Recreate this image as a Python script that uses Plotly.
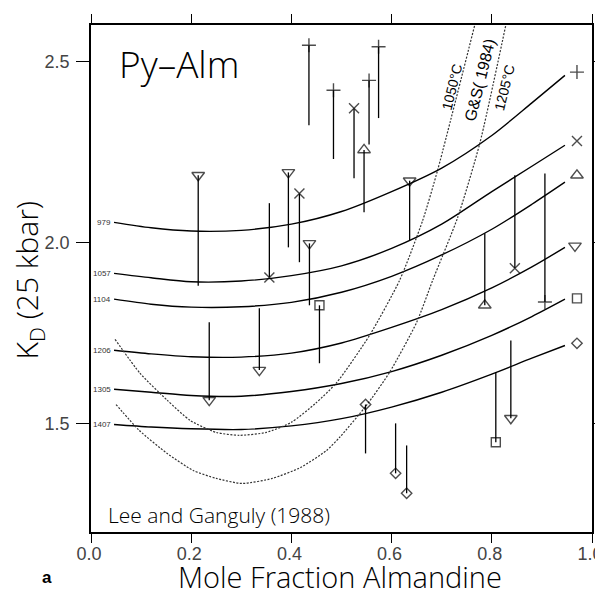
import plotly.graph_objects as go

# ---------------- data ----------------
ISO_X = [0.046, 0.12, 0.2, 0.3, 0.4, 0.5, 0.6, 0.7, 0.8, 0.88, 0.946]
iso_979 = [2.055, 2.040, 2.031, 2.033, 2.050, 2.085, 2.140, 2.205, 2.295, 2.385, 2.461]
iso_1057 = [1.914, 1.902, 1.891, 1.893, 1.908, 1.935, 1.983, 2.050, 2.140, 2.210, 2.268]
iso_1104 = [1.843, 1.829, 1.821, 1.822, 1.834, 1.862, 1.906, 1.965, 2.036, 2.105, 2.166]
iso_1206 = [1.702, 1.692, 1.684, 1.683, 1.694, 1.722, 1.765, 1.814, 1.874, 1.932, 1.986]
iso_1305 = [1.594, 1.586, 1.577, 1.575, 1.588, 1.610, 1.643, 1.688, 1.743, 1.795, 1.843]
iso_1407 = [1.497, 1.490, 1.485, 1.483, 1.493, 1.513, 1.545, 1.586, 1.636, 1.680, 1.715]
iso_labels = ["979", "1057", "1104", "1206", "1305", "1407"]

# Ganguly & Saxena (1984) curves (dotted)
gs1050_x = [0.048, 0.098, 0.152, 0.198, 0.25, 0.296, 0.35, 0.40, 0.448, 0.49, 0.556,
            0.616, 0.662, 0.692, 0.766]
gs1050_y = [1.732, 1.638, 1.564, 1.508, 1.475, 1.467, 1.475, 1.503, 1.555, 1.612, 1.743,
            1.895, 2.060, 2.200, 2.600]
gs1205_x = [0.05, 0.096, 0.152, 0.204, 0.25, 0.302, 0.362, 0.418, 0.47, 0.496, 0.55,
            0.596, 0.65, 0.682, 0.732, 0.776, 0.828]
gs1205_y = [1.552, 1.481, 1.417, 1.370, 1.348, 1.334, 1.348, 1.378, 1.425, 1.461, 1.550,
            1.641, 1.779, 1.895, 2.069, 2.273, 2.600]

# experimental points: marker position and other end of the vertical bar
pt_symbol = ["tdown", "x", "tdown", "x", "tdown", "plus", "plus", "x", "plus", "tup", "plus",
             "tdown", "square", "tdown", "tdown", "diamond", "diamond", "diamond", "square",
             "tdown", "tup", "x", "plus"]
pt_x = [0.214, 0.356, 0.394, 0.416, 0.436, 0.435, 0.484, 0.525, 0.555, 0.545, 0.574,
        0.636, 0.456, 0.236, 0.336, 0.548, 0.608, 0.630, 0.808, 0.838, 0.786, 0.846, 0.906]
pt_y = [2.185, 1.903, 2.193, 2.135, 1.997, 2.544, 2.420, 2.370, 2.447, 2.255, 2.540,
        2.170, 1.826, 1.564, 1.647, 1.552, 1.362, 1.307, 1.448, 1.514, 1.826, 1.928, 1.835]
pt_end = [1.880, 2.108, 1.986, 1.945, 1.826, 2.323, 2.230, 2.177, 2.270, 2.083, 2.343,
          2.005, 1.666, 1.779, 1.818, 1.417, 1.500, 1.439, 1.641, 1.729, 2.025, 2.185, 2.190]

# key markers at the right end of each isotherm
key_symbol = ["plus", "x", "tup", "tdown", "square", "diamond"]
key_x = [0.97, 0.97, 0.97, 0.966, 0.97, 0.97]
key_y = [2.470, 2.280, 2.185, 1.990, 1.845, 1.721]

x_ticks = [0.0, 0.2, 0.4, 0.6, 0.8, 1.0]
x_tick_text = ["0.0", "0.2", "0.4", "0.6", "0.8", "1.0"]
y_ticks = [1.5, 2.0, 2.5]
y_tick_text = ["1.5", "2.0", "2.5"]

# ---------------- styling ----------------
SYM = {"tdown": "triangle-down-open", "tup": "triangle-up-open", "x": "x-thin-open",
       "plus": "cross-thin-open", "square": "square-open", "diamond": "diamond-open"}
SIZE = {"tdown": 11, "tup": 11, "x": 10, "plus": 10, "square": 9, "diamond": 8}
LIGHT = "Open Sans, Lato, DejaVu Sans, sans-serif"
TICKF = "Liberation Sans, Arial, sans-serif"

fig = go.Figure()

isos = [iso_979, iso_1057, iso_1104, iso_1206, iso_1305, iso_1407]
for ys in isos:
    fig.add_trace(go.Scatter(x=ISO_X, y=ys, mode="lines",
                             line=dict(color="black", width=1.4, shape="spline", smoothing=0.8),
                             hoverinfo="skip", showlegend=False))

for xs, ys in [(gs1050_x, gs1050_y), (gs1205_x, gs1205_y)]:
    fig.add_trace(go.Scatter(x=xs, y=ys, mode="lines",
                             line=dict(color="#333", width=1.2, dash="2px,1.5px",
                                       shape="spline", smoothing=0.6),
                             hoverinfo="skip", showlegend=False))

# vertical bars
bx, by = [], []
for x, y0, y1 in zip(pt_x, pt_y, pt_end):
    bx += [x, x, None]
    by += [y0, y1, None]
fig.add_trace(go.Scatter(x=bx, y=by, mode="lines", line=dict(color="black", width=1.3),
                         hoverinfo="skip", showlegend=False))

fig.add_trace(go.Scatter(x=pt_x, y=pt_y, mode="markers",
                         marker=dict(symbol=[SYM[s] for s in pt_symbol],
                                     size=[SIZE[s] for s in pt_symbol],
                                     color="black", line=dict(color="black", width=1.4)),
                         showlegend=False))
fig.add_trace(go.Scatter(x=key_x, y=key_y, mode="markers",
                         marker=dict(symbol=[SYM[s] for s in key_symbol],
                                     size=[SIZE[s] for s in key_symbol],
                                     color="black", line=dict(color="black", width=1.4)),
                         showlegend=False))

ann = []
for lab, ys in zip(iso_labels, isos):
    ann.append(dict(x=0.044, y=ys[0], xref="x", yref="y", text=lab, showarrow=False,
                    xanchor="right", yanchor="middle",
                    font=dict(family=TICKF, size=8, color="#333")))
ann += [
    dict(x=0.176, y=2.494, xref="x", yref="y", text="Py–Alm", showarrow=False,
         xanchor="center", yanchor="middle",
         font=dict(family=LIGHT, size=37, color="black", weight=300)),
    dict(x=0.03, y=1.246, xref="x", yref="y", text="Lee and Ganguly (1988)", showarrow=False,
         xanchor="left", yanchor="middle",
         font=dict(family=LIGHT, size=21, color="black", weight=300)),
    dict(x=0.721, y=2.428, xref="x", yref="y", text="1050°C", showarrow=False, textangle=-76,
         xanchor="center", yanchor="middle",
         font=dict(family=TICKF, size=14, color="black")),
    dict(x=0.776, y=2.447, xref="x", yref="y", text="G&S( 1984)", showarrow=False, textangle=-76,
         xanchor="center", yanchor="middle",
         font=dict(family=TICKF, size=16, color="black")),
    dict(x=0.826, y=2.428, xref="x", yref="y", text="1205°C", showarrow=False, textangle=-76,
         xanchor="center", yanchor="middle",
         font=dict(family=TICKF, size=14, color="black")),
    dict(x=0.497, y=-0.087, xref="paper", yref="paper", text="Mole Fraction Almandine",
         showarrow=False, xanchor="center", yanchor="middle",
         font=dict(family=LIGHT, size=29, color="black", weight=300)),
    dict(x=-0.088, y=-0.089, xref="paper", yref="paper", text="<b>a</b>",
         showarrow=False, xanchor="center", yanchor="middle",
         font=dict(family=TICKF, size=17, color="black")),
    dict(x=-0.125, y=0.497, xref="paper", yref="paper", text="K<sub>D</sub> (25 kbar)",
         showarrow=False, textangle=-90, xanchor="center", yanchor="middle",
         font=dict(family=LIGHT, size=30, color="black", weight=300)),
]

# the page body adds an 8 px offset, so the figure is 8 px smaller and margins shifted
fig.update_layout(
    width=595, height=586, autosize=False,
    margin=dict(l=83, r=11, t=17, b=62, autoexpand=False),
    paper_bgcolor="white", plot_bgcolor="white",
    annotations=ann,
    xaxis=dict(range=[0, 1], tickvals=x_ticks, ticktext=x_tick_text, ticks="outside",
               ticklen=9, tickwidth=1.3, tickcolor="black", showline=True, linecolor="black",
               linewidth=1.5, mirror="allticks", showgrid=False, zeroline=False,
               automargin=False, ticklabelstandoff=-4, ticklabelshift=-2,
               ticklabeloverflow="allow",
               tickfont=dict(family=TICKF, size=18, color="#444")),
    yaxis=dict(range=[1.2, 2.6], tickvals=y_ticks, ticktext=y_tick_text, ticks="outside",
               ticklen=13, tickwidth=1.3, tickcolor="black", showline=True, linecolor="black",
               linewidth=1.5, mirror="allticks", showgrid=False, zeroline=False,
               automargin=False, ticklabelstandoff=3, ticklabeloverflow="allow",
               tickfont=dict(family=TICKF, size=18, color="#444")),
)

fig.write_html("out.html")
